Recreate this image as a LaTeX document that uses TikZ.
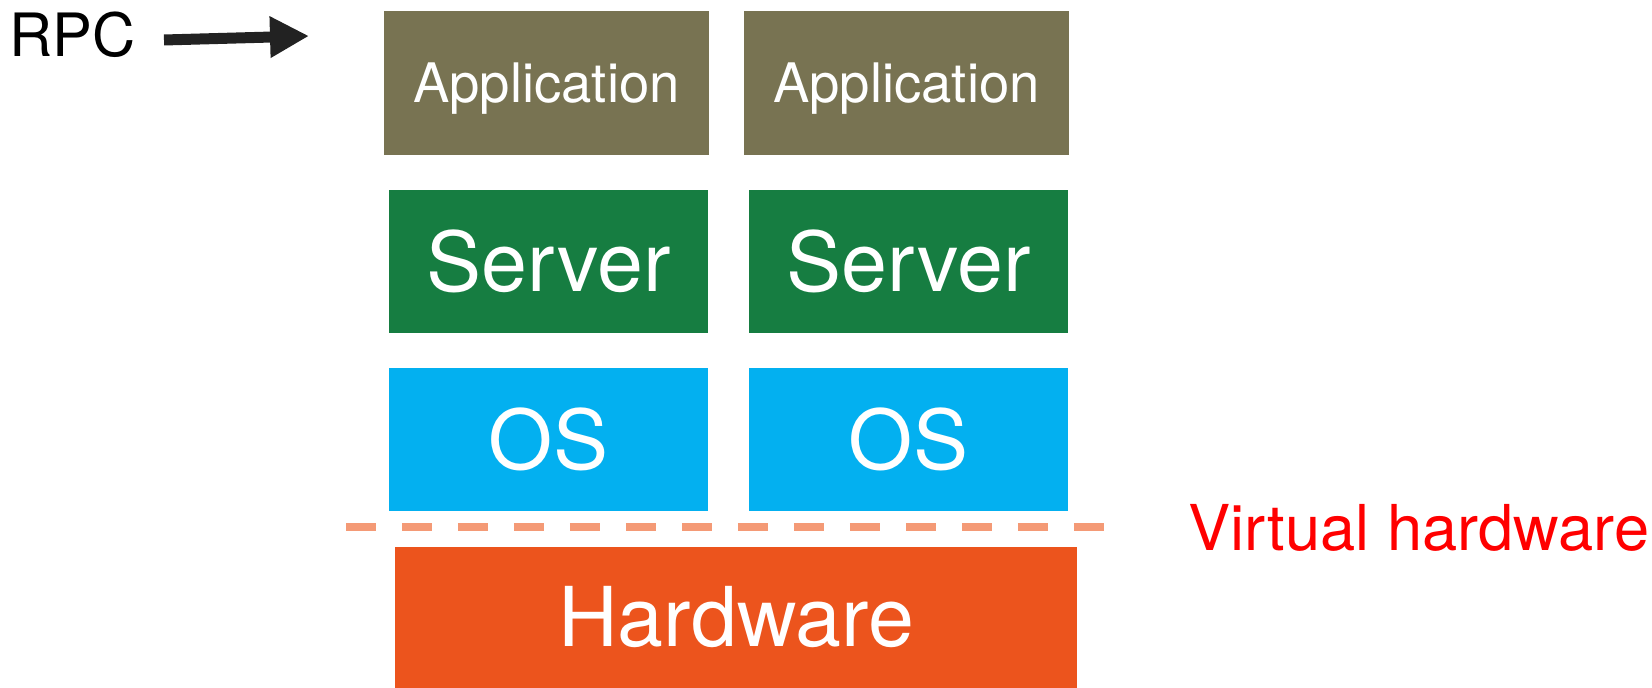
\documentclass[tikz,border=0pt]{standalone}
\usepackage{fontspec}
\setmainfont{TeX Gyre Heros}
\usetikzlibrary{arrows.meta}

\definecolor{appcol}{HTML}{787352}
\definecolor{srvcol}{HTML}{167D41}
\definecolor{oscol}{HTML}{03B0F0}
\definecolor{hwcol}{HTML}{EC541D}
\definecolor{dashcol}{HTML}{F49A76}
\definecolor{arrcol}{HTML}{222222}

\tikzset{
	layer/.style={inner sep=0pt, text=white},
	appbox/.style={layer, fill=appcol, minimum width=6.5cm, minimum height=2.88cm, text depth=0pt, font=\fontsize{31pt}{31pt}\selectfont},
	srvbox/.style={layer, fill=srvcol, minimum width=6.38cm, minimum height=2.86cm, font=\fontsize{47pt}{47pt}\selectfont},
	osbox/.style={layer, fill=oscol, minimum width=6.38cm, minimum height=2.86cm, font=\fontsize{47pt}{47pt}\selectfont},
	hwbox/.style={layer, fill=hwcol, minimum width=13.64cm, minimum height=2.82cm, font=\fontsize{47pt}{47pt}\selectfont}
}

\begin{document}
\begin{tikzpicture}[x=0.02cm, y=-0.02cm]

		\useasboundingbox (0, 0) rectangle (1652, 688);
		\node[appbox] (app1) at (546.5, 83) {Application};
		\node[appbox] (app2) at (906.5, 83) {Application};
		\node[srvbox] (srv1) at (548.5, 261.5) {Server};
		\node[srvbox] (srv2) at (908.5, 261.5) {Server};
		\node[osbox] (os1) at (548.5, 439.5) {OS};
		\node[osbox] (os2) at (908.5, 439.5) {OS};
		\node[hwbox] (hw) at (736, 617.5) {Hardware};
		\draw[dashcol, line width=0.16cm, dash pattern=on 0.6cm off 0.52cm] (346, 527) -- (1106, 527);
		\node[anchor=base west, inner sep=0pt, red, font=\fontsize{36pt}{36pt}\selectfont] (virt) at (1188, 551) {Virtual hardware};
		\node[anchor=base west, inner sep=0pt, font=\fontsize{34pt}{34pt}\selectfont] (rpc) at (9, 57) {RPC};
		\coordinate (rpctail) at (164, 40);
		\coordinate (rpctip) at (309, 36);
		\draw[arrcol, line width=0.22cm, -{Triangle[length=0.78cm, width=0.78cm]}] (rpctail) -- (rpctip);
	\end{tikzpicture}
\end{document}
